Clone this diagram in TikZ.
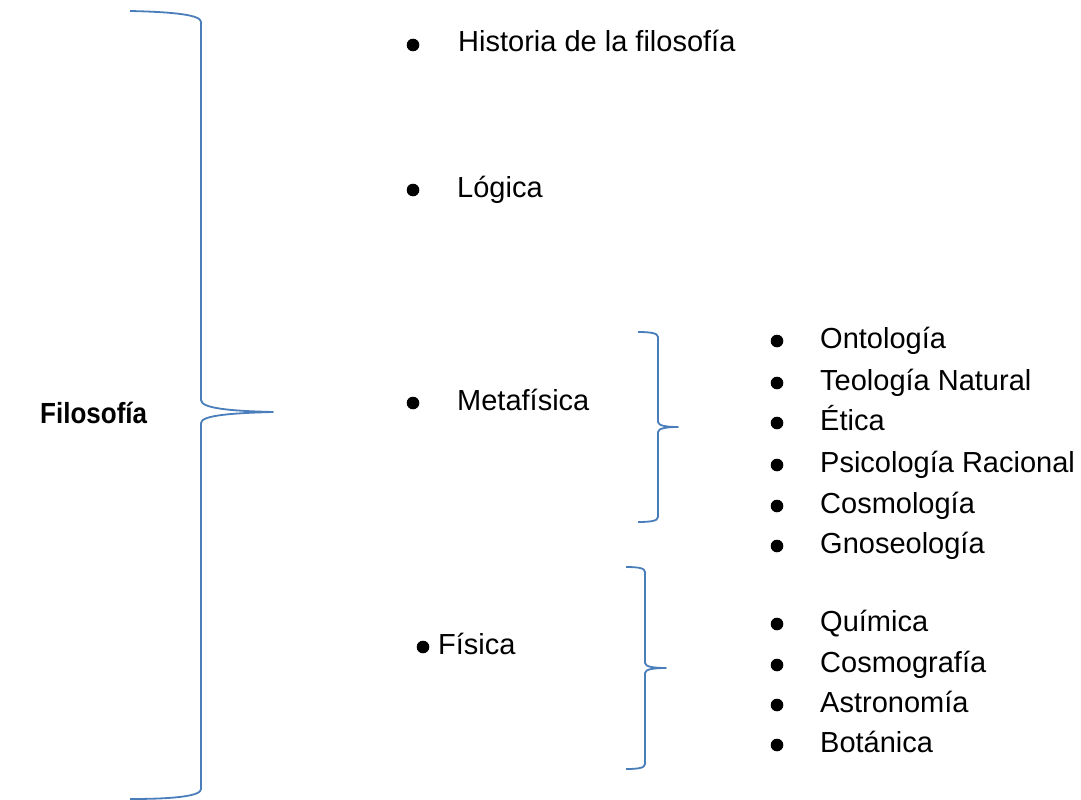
\documentclass[tikz,border=0pt]{standalone}
\usepackage{fontspec}
\setmainfont{Liberation Sans}
\definecolor{bracecol}{HTML}{4A7EBB}
\begin{document}
\begin{tikzpicture}[x=1pt,y=-1pt,
  lbl/.style={anchor=base west,inner sep=0pt,font=\fontsize{29}{34}\selectfont},
  title/.style={anchor=base west,inner sep=0pt,font=\fontsize{26}{30}\selectfont\bfseries,yscale=1.12},
  brace/.style={draw=bracecol,line width=1.8pt,line join=round},
  dot/.style={fill=black}]
\useasboundingbox (0,0) rectangle (1081,800);
% main title
\node[title] (fil) at (40,423) {Filosofía};
% main items
\node[lbl] (hist) at (458,52) {Historia de la filosofía};
\node[lbl] (log) at (457,197) {Lógica};
\node[lbl] (meta) at (457,410) {Metafísica};
\node[lbl] (fis) at (438,654) {Física};
\fill[dot] (413,45) circle[radius=6.3pt];
\fill[dot] (413,190) circle[radius=6.3pt];
\fill[dot] (413,403) circle[radius=6.3pt];
\fill[dot] (423,647) circle[radius=6.3pt];
% metafisica list
\foreach \t/\y/\n in {Ontología/348/m1,Teología Natural/390/m2,Ética/430/m3,Psicología Racional/472/m4,Cosmología/513/m5,Gnoseología/553/m6}{
  \node[lbl] (\n) at (820,\y) {\t};
  \fill[dot] (777,\y-7) circle[radius=6.3pt];
}
% fisica list
\foreach \t/\y/\n in {Química/631/f1,Cosmografía/672/f2,Astronomía/712/f3,Botánica/752/f4}{
  \node[lbl] (\n) at (820,\y) {\t};
  \fill[dot] (777,\y-7) circle[radius=6.3pt];
}
% big brace
\coordinate (b1) at (273,412);
\draw[brace] (130,11) .. controls (175,12) and (201,15) .. (201,22) -- (201,400)
  .. controls (201,409) and (235,411) .. (b1)
  .. controls (235,413) and (201,415) .. (201,423) -- (201,789)
  .. controls (201,796) and (175,799) .. (130,799);
% metafisica brace
\coordinate (b2) at (678,427);
\draw[brace] (638,332) .. controls (650,332) and (658,333) .. (658,337) -- (658,422)
  .. controls (658,426) and (668,427) .. (b2)
  .. controls (668,427) and (658,428) .. (658,432) -- (658,517)
  .. controls (658,521) and (650,522) .. (638,522);
% fisica brace
\coordinate (b3) at (666,668);
\draw[brace] (626,567) .. controls (638,567) and (645,568) .. (645,572) -- (645,663)
  .. controls (645,667) and (655,668) .. (b3)
  .. controls (655,668) and (645,669) .. (645,673) -- (645,764)
  .. controls (645,768) and (638,769) .. (626,769);
\end{tikzpicture}
\end{document}
